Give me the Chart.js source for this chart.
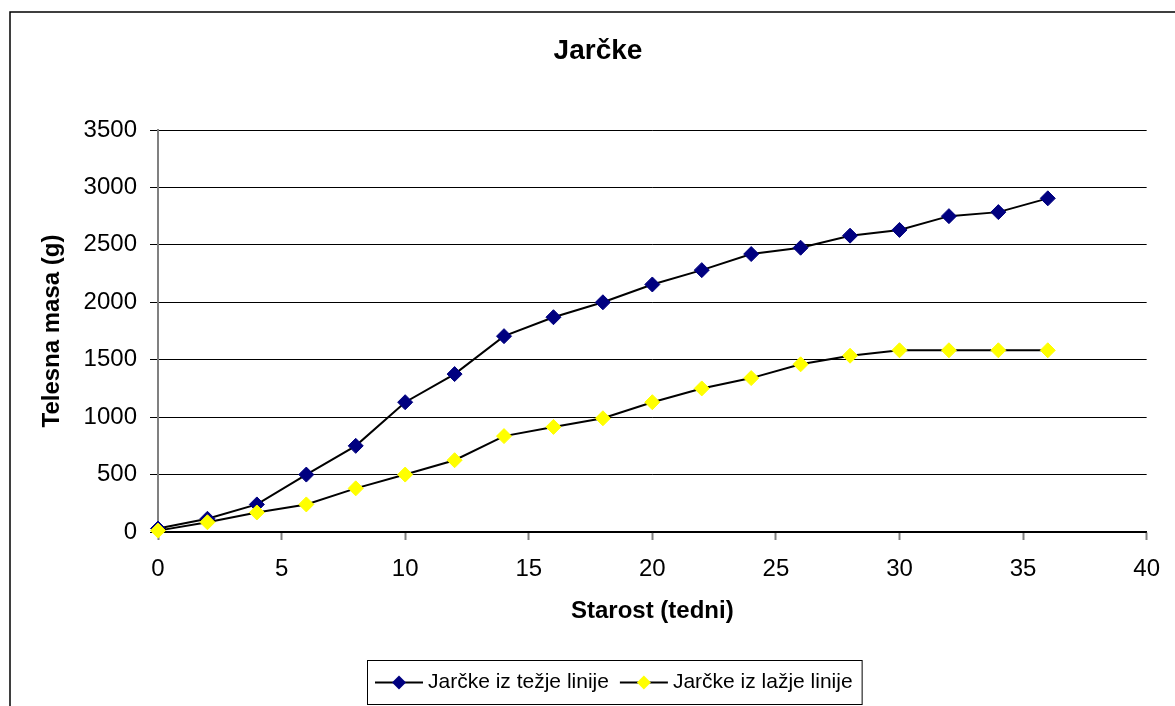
<!DOCTYPE html>
<html><head><meta charset="utf-8">
<script src="https://cdn.jsdelivr.net/npm/chart.js@4/dist/chart.umd.min.js"></script>
<style>html,body{margin:0;padding:0;background:#fff;overflow:hidden}canvas{display:block}</style>
</head><body>
<canvas id="c" width="1175" height="706"></canvas>
<script>
const chartTitle = 'Jarčke';
const xAxisTitle = 'Starost (tedni)';
const yAxisTitle = 'Telesna masa (g)';
const seriesNames = ['Jarčke iz težje linije', 'Jarčke iz lažje linije'];
const weeks = [0, 2, 4, 6, 8, 10, 12, 14, 16, 18, 20, 22, 24, 26, 28, 30, 32, 34, 36];
const heavyLine = [30, 115, 240, 500, 750, 1130, 1375, 1705, 1870, 2000, 2155, 2280, 2420, 2475, 2580, 2630, 2750, 2785, 2905];
const lightLine = [12, 85, 170, 240, 380, 500, 625, 835, 915, 990, 1130, 1250, 1340, 1460, 1535, 1582, 1582, 1582, 1582];
const seriesColors = ['#000080', '#FFFF00'];
const xMin = 0, xMax = 40, xStep = 5;
const yMin = 0, yMax = 3500, yStep = 500;

const FONT = "'Liberation Sans', Arial, sans-serif";

function diamond(ctx, x, y, r, color) {
  ctx.beginPath();
  ctx.moveTo(x - r, y); ctx.lineTo(x, y - r); ctx.lineTo(x + r, y); ctx.lineTo(x, y + r);
  ctx.closePath();
  ctx.fillStyle = color; ctx.fill();
}

const framePlugin = {
  id: 'frame',
  beforeDraw(chart) {
    const ctx = chart.ctx;
    ctx.save();
    ctx.fillStyle = '#fff';
    ctx.fillRect(0, 0, chart.width, chart.height);
    ctx.strokeStyle = '#000';
    ctx.lineWidth = 1.5;
    ctx.beginPath();
    ctx.moveTo(10, chart.height); ctx.lineTo(10, 12); ctx.lineTo(chart.width, 12);
    ctx.stroke();
    ctx.restore();
  },
  afterDraw(chart) {
    const ctx = chart.ctx;
    ctx.save();
    ctx.font = '21px ' + FONT;
    const boxLeft = 367, boxTop = 660.5, boxH = 44, midY = boxTop + boxH / 2;
    let x = boxLeft + 8;
    const items = chart.data.datasets.map(d => d.label);
    items.forEach((label, i) => {
      ctx.strokeStyle = '#000'; ctx.lineWidth = 2;
      ctx.beginPath(); ctx.moveTo(x, midY); ctx.lineTo(x + 48, midY); ctx.stroke();
      diamond(ctx, x + 24, midY, 7, seriesColors[i]);
      ctx.fillStyle = '#000'; ctx.textBaseline = 'middle'; ctx.textAlign = 'left';
      ctx.fillText(label, x + 53, midY);
      x += 53 + ctx.measureText(label).width + 11;
    });
    const boxRight = x - 11 + 9;
    ctx.strokeStyle = '#000'; ctx.lineWidth = 1;
    ctx.strokeRect(boxLeft + 0.5, boxTop, boxRight - boxLeft, boxH);
    ctx.restore();
  }
};

new Chart(document.getElementById('c'), {
  type: 'line',
  data: {
    labels: weeks,
    datasets: [
      {
        label: seriesNames[0],
        data: weeks.map((w, i) => ({x: w, y: heavyLine[i]})),
        borderColor: '#000', borderWidth: 2,
        pointStyle: 'rectRot', pointRadius: 7.5,
        pointBackgroundColor: seriesColors[0], pointBorderColor: seriesColors[0], pointBorderWidth: 1,
        tension: 0, clip: false, order: 1
      },
      {
        label: seriesNames[1],
        data: weeks.map((w, i) => ({x: w, y: lightLine[i]})),
        borderColor: '#000', borderWidth: 2,
        pointStyle: 'rectRot', pointRadius: 7.5,
        pointBackgroundColor: seriesColors[1], pointBorderColor: seriesColors[1], pointBorderWidth: 1,
        tension: 0, clip: false, order: 0
      }
    ]
  },
  options: {
    responsive: false, animation: false, devicePixelRatio: 1,
    layout: {padding: {left: 48, right: 27, top: 0, bottom: 0}},
    plugins: {
      legend: {display: false},
      tooltip: {enabled: false},
      title: {
        display: true, text: chartTitle, color: '#000',
        font: {family: FONT, size: 28, weight: 'bold', lineHeight: 1.2},
        padding: {top: 34.2, bottom: 62.2}
      }
    },
    scales: {
      x: {
        type: 'linear', min: xMin, max: xMax,
        ticks: {stepSize: xStep, color: '#000', font: {family: FONT, size: 24}, padding: 15, maxRotation: 0,
                callback: v => String(v)},
        grid: {drawOnChartArea: false, tickLength: 8, tickColor: '#808080', tickWidth: 2},
        border: {color: '#000', width: 1.5},
        title: {display: true, text: xAxisTitle, color: '#000', font: {family: FONT, size: 24, weight: 'bold', lineHeight: 1.2}, padding: {top: 0, bottom: 80}},
        afterFit(s) { s.height = 174; }
      },
      y: {
        min: yMin, max: yMax,
        ticks: {stepSize: yStep, color: '#000', font: {family: FONT, size: 24}, padding: 13,
                callback: v => String(v)},
        grid: {color: '#000', lineWidth: 1, tickLength: 8},
        border: {color: '#808080', width: 2},
        title: {display: true, text: yAxisTitle, color: '#000', font: {family: FONT, size: 24, weight: 'bold', lineHeight: 1.2}, padding: {top: -10, bottom: 0}},
        afterFit(s) { s.width = 110; }
      }
    }
  },
  plugins: [framePlugin]
});
</script>
</body></html>
